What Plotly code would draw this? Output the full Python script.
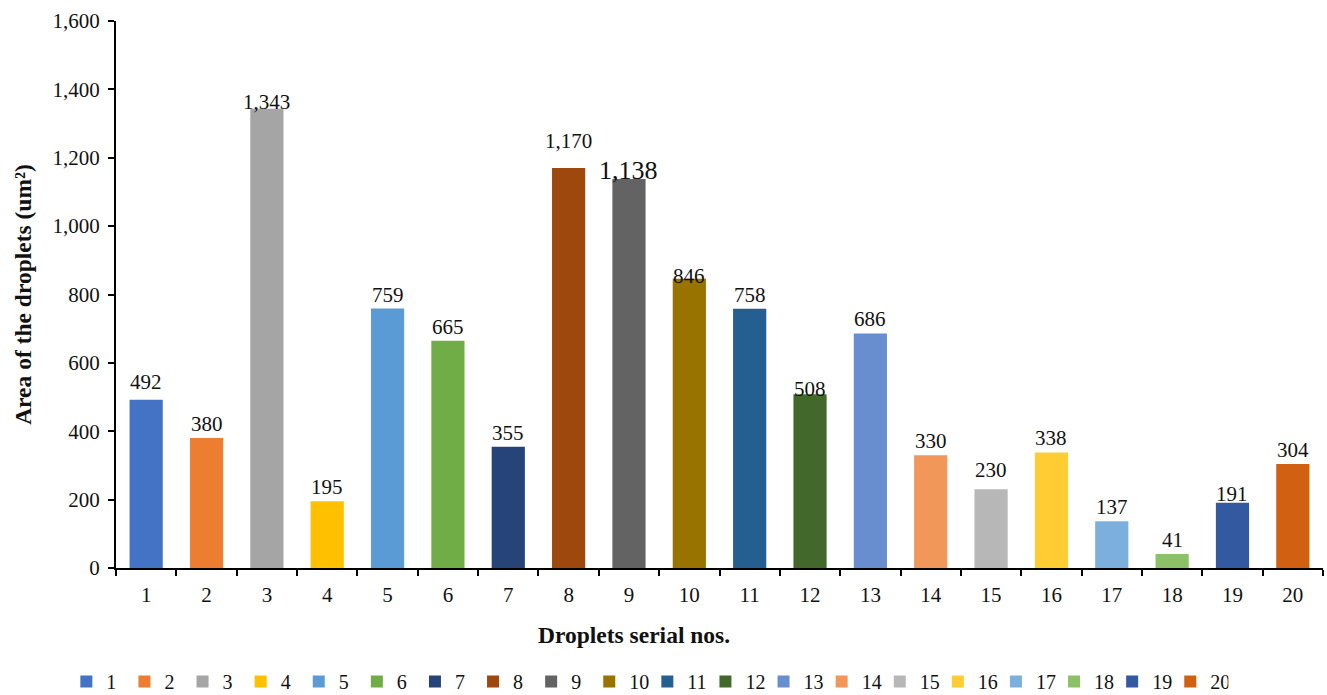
import plotly.graph_objects as go

# Droplet serial numbers and measured areas (um²)
droplets = [str(i) for i in range(1, 21)]
areas = [492, 380, 1343, 195, 759, 665, 355, 1170, 1138, 846,
         758, 508, 686, 330, 230, 338, 137, 41, 191, 304]
colors = ["#4472C4", "#ED7D31", "#A5A5A5", "#FFC000", "#5B9BD5",
          "#70AD47", "#264478", "#9E480E", "#636363", "#997300",
          "#255E91", "#43682B", "#698ED0", "#F1975A", "#B7B7B7",
          "#FFCD33", "#7CAFDD", "#8CC168", "#335AA1", "#D26012"]
y_ticks = [0, 200, 400, 600, 800, 1000, 1200, 1400, 1600]

SERIF = "Liberation Serif, Times New Roman, serif"

# vertical nudge (px) and font size for a few value labels
label_shift = {"1": 4, "3": -7, "8": 13, "9": -8, "10": -11,
               "12": -9, "15": 5, "19": -5}
label_size = {"9": 26}

fig = go.Figure()
for idx, (name, val, col) in enumerate(zip(droplets, areas, colors)):
    fig.add_trace(go.Bar(
        x=[name], y=[val], name=name,
        marker=dict(color=col, line=dict(width=0)),
        hovertemplate="%{x}: %{y:,}<extra></extra>",
    ))
    # category axes place annotations by category index
    fig.add_annotation(
        x=idx, y=val, text=f"{val:,}", showarrow=False,
        yanchor="bottom", yshift=label_shift.get(name, 0),
        font=dict(family=SERIF, size=label_size.get(name, 21), color="#111"),
    )

# x-axis title, set a little left of the plot centre
fig.add_annotation(
    xref="paper", yref="paper", x=0.429, y=-0.1225,
    xanchor="center", yanchor="middle", showarrow=False,
    text="<b>Droplets serial nos.</b>",
    font=dict(family=SERIF, size=23.5, color="#111"),
)

fig.update_layout(
    width=1327, height=695,
    margin=dict(l=116, r=4, t=21, b=127),
    paper_bgcolor="white", plot_bgcolor="white",
    barmode="overlay", bargap=0.45,
    font=dict(family=SERIF, size=21, color="#111"),
    showlegend=True,
    legend=dict(
        orientation="h", xref="container", yref="container",
        x=0.05, xanchor="left", y=0.0195, yanchor="middle",
        entrywidth=13.1, entrywidthmode="pixels",
        font=dict(family=SERIF, size=20, color="#111"),
        traceorder="normal", itemclick=False,
    ),
    xaxis=dict(
        type="category", range=[-0.5, len(droplets) - 0.5],
        tickson="boundaries",
        ticks="outside", ticklen=6, tickwidth=2, tickcolor="black",
        showline=True, linecolor="black", linewidth=2,
        showgrid=False, tickfont=dict(family=SERIF, size=21),
        ticklabelstandoff=7,
    ),
    yaxis=dict(
        range=[0, 1600], tickvals=y_ticks, tickformat=",",
        ticks="outside", ticklen=6, tickwidth=2, tickcolor="black",
        showline=True, linecolor="black", linewidth=2,
        showgrid=False, zeroline=False, tickfont=dict(family=SERIF, size=21),
        ticklabelstandoff=4,
        title=dict(text="<b>Area of the droplets (um²)</b>", standoff=14,
                   font=dict(family=SERIF, size=23.5)),
    ),
)

fig.write_html("out.html")
